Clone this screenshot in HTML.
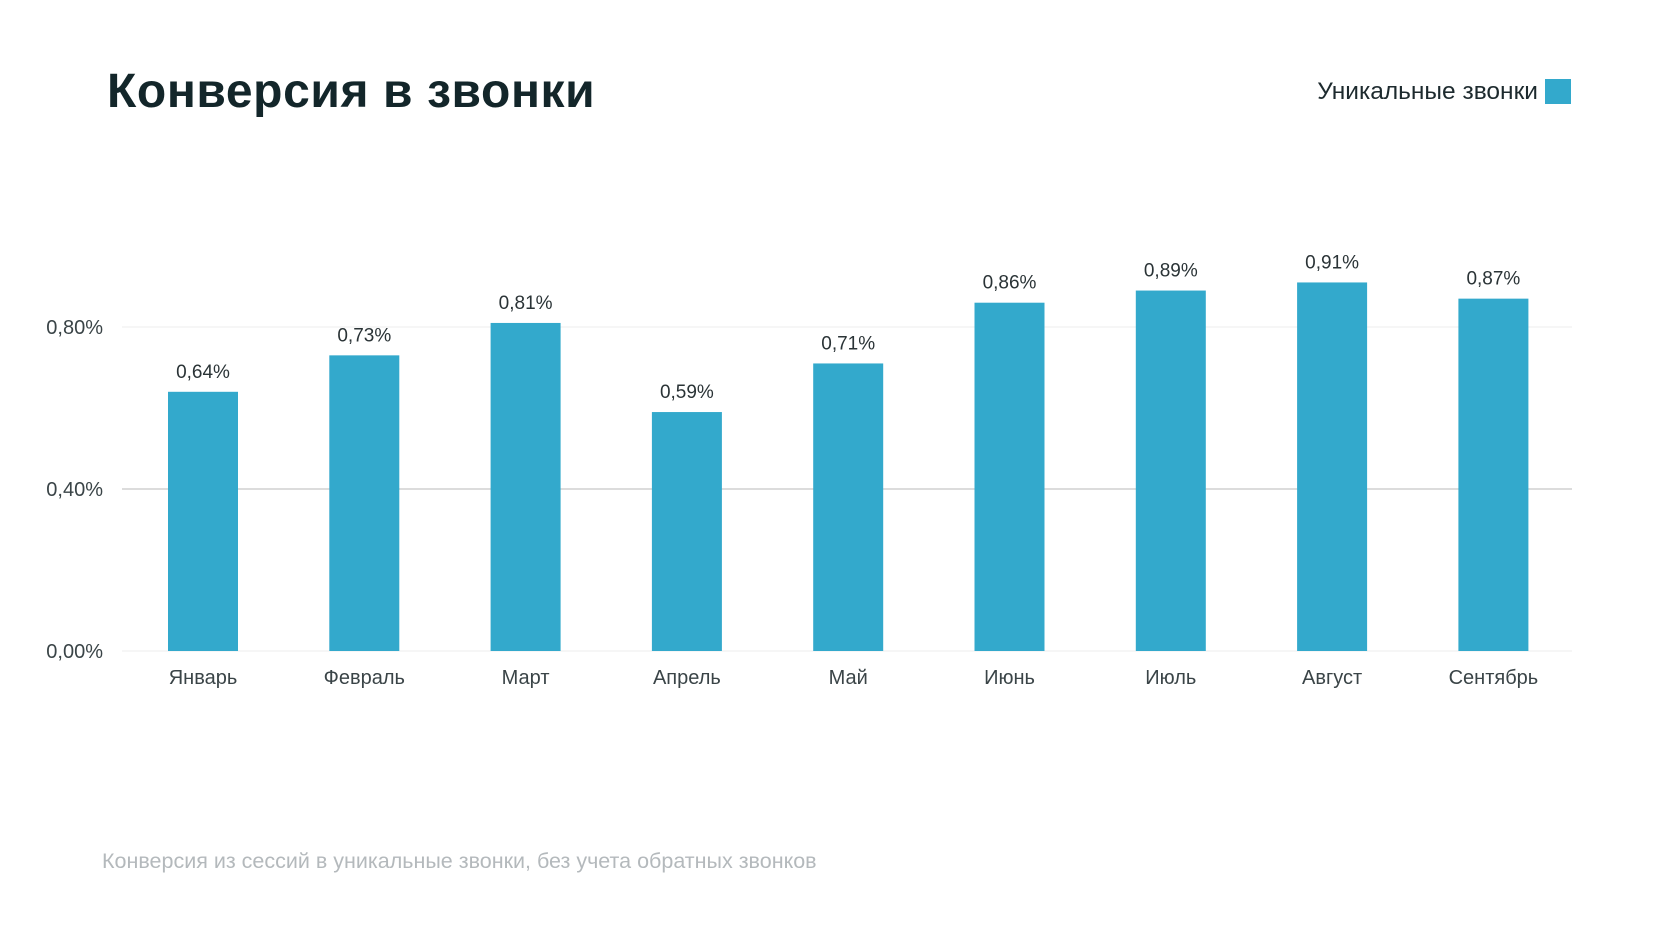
<!DOCTYPE html>
<html><head><meta charset="utf-8"><style>
body{margin:0;width:1680px;height:945px;background:#fff;font-family:"Liberation Sans",sans-serif;overflow:hidden}
</style></head><body>
<svg width="1680" height="945" id="svg">
<text x="107" y="107" font-size="48" font-weight="bold" letter-spacing="0.6" fill="#13262a">Конверсия в звонки</text>
<text x="1538" y="99" text-anchor="end" font-size="24.5" fill="#1d2a2e">Уникальные звонки</text>
<rect x="1545" y="79" width="26" height="25" fill="#33a9cc"/>
<text x="102" y="868" font-size="21.5" fill="#b4b9bc">Конверсия из сессий в уникальные звонки, без учета обратных звонков</text>
<g id="plot"></g>
</svg>
<script>
const categories=["Январь","Февраль","Март","Апрель","Май","Июнь","Июль","Август","Сентябрь"];
const values=[0.64,0.73,0.81,0.59,0.71,0.86,0.89,0.91,0.87];
const valueLabels=["0,64%","0,73%","0,81%","0,59%","0,71%","0,86%","0,89%","0,91%","0,87%"];
const ticks=[0,0.4,0.8];
const tickLabels=["0,00%","0,40%","0,80%"];
const NS="http://www.w3.org/2000/svg";
const g=document.getElementById('plot');
const y=v=>651-v*(162/0.4);
const x=i=>203+i*161.3;
function mk(t,a){const e=document.createElementNS(NS,t);for(const k in a)e.setAttribute(k,a[k]);g.appendChild(e);return e;}
ticks.forEach((t,i)=>{
 const l=mk('line',{x1:122,x2:1572,y1:y(t),y2:y(t),stroke:i==1?'#dcdcdc':'#eeeeee','stroke-width':i==1?2:1});
 
 
 const tx=mk('text',{x:103,y:y(t)+7,'text-anchor':'end','font-size':20,fill:'#3a4447'});
 tx.textContent=tickLabels[i];
 
 
});
categories.forEach((c,i)=>{
 const r=mk('rect',{x:x(i)-35,y:y(values[i]),width:70,height:651-y(values[i]),fill:'#33a9cc'});
 
 
 const v=mk('text',{x:x(i),y:y(values[i])-14,'text-anchor':'middle','font-size':19,fill:'#2a3336'});
 v.textContent=valueLabels[i];
 
 
 const m=mk('text',{x:x(i),y:684,'text-anchor':'middle','font-size':20,fill:'#3a4447'});
 m.textContent=c;
 
 
});
</script>
</body></html>
